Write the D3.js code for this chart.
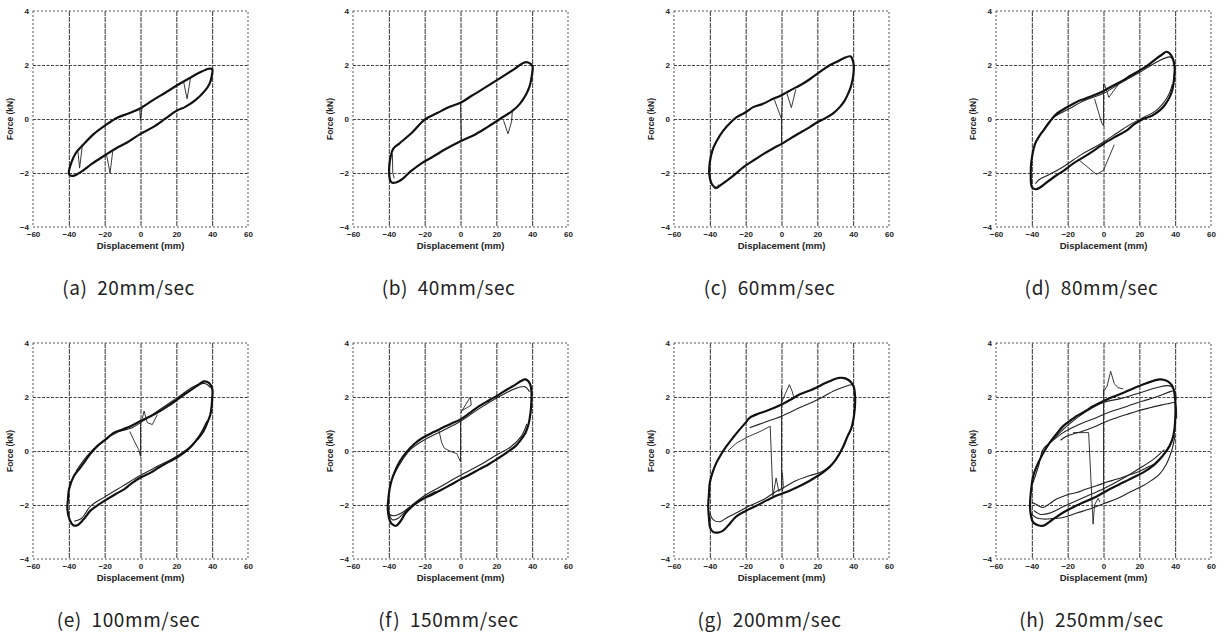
<!DOCTYPE html>
<html>
<head>
<meta charset="utf-8">
<script src="https://cdn.jsdelivr.net/npm/d3@7"></script>
<style>
  body { margin: 0; background: #fff; }
  svg { display: block; }
  .tick text { font-family: "Liberation Sans", Arial, sans-serif; font-weight: bold; font-size: 8px; fill: #222; }
</style>
</head>
<body>
<svg id="chart"></svg>
<script>
// Axis ticks and captions
const xTicks = [-60, -40, -20, 0, 20, 40, 60];
const yTicks = [-4, -2, 0, 2, 4];
const captions = ["(a)  20mm/sec", "(b)  40mm/sec", "(c)  60mm/sec", "(d)  80mm/sec",
                  "(e)  100mm/sec", "(f)  150mm/sec", "(g)  200mm/sec", "(h)  250mm/sec"];

// Main hysteresis loops [displacement mm, force kN]
const loopA = [[-40,-2.0],[-38.5,-1.6],[-36,-1.25],[-32,-0.95],[-26,-0.55],[-20,-0.25],[-13,0.05],[-6,0.22],[0,0.4],[7,0.7],[14,0.98],[20,1.23],[27,1.5],[33,1.72],[38,1.86],[40,1.85],
  [39.8,1.6],[38.5,1.3],[36,1.05],[31,0.72],[25,0.45],[20,0.3],[14,0.02],[7,-0.3],[0,-0.55],[-7,-0.85],[-14,-1.1],[-20,-1.35],[-27,-1.65],[-33,-1.95],[-37,-2.1],[-39.5,-2.08]];
const loopB = [[-39.5,-2.2],[-39.8,-1.8],[-39,-1.4],[-37.5,-1.1],[-34,-0.9],[-27,-0.5],[-20,-0.02],[-13,0.22],[-6,0.45],[0,0.6],[6,0.85],[11,1.05],[17,1.3],[23,1.55],[30,1.85],[36,2.1],[39,2.05],[40.2,1.95],
  [39.8,1.6],[38.5,1.2],[36.5,0.9],[33,0.55],[29,0.3],[22,0.0],[15,-0.3],[8,-0.58],[0,-0.82],[-8,-1.1],[-15,-1.38],[-22,-1.65],[-28,-1.95],[-33,-2.25],[-36,-2.35],[-38.5,-2.35]];
const loopC = [[-40.3,-2.04],[-40,-1.6],[-38.5,-1.15],[-36.5,-0.85],[-32.5,-0.43],[-28,-0.1],[-25,0.07],[-20,0.25],[-15.8,0.44],[-10,0.57],[-6.5,0.69],[0,0.88],[4,1.03],[8.4,1.18],[13,1.35],[17.6,1.56],[22,1.77],[26.9,1.99],[31,2.12],[34.4,2.24],[38.5,2.32],[40.2,2.05],
  [40.2,1.7],[39.6,1.43],[38.5,1.15],[37.2,0.94],[35,0.65],[32.5,0.44],[29,0.22],[25,0.05],[20,-0.12],[15.8,-0.3],[8,-0.6],[0,-0.92],[-5,-1.1],[-10.2,-1.3],[-16,-1.55],[-21.4,-1.79],[-26,-2.05],[-30.7,-2.29],[-34,-2.45],[-36.2,-2.55],[-38.5,-2.45]];
const loopD = [[-40.1,-2.5],[-40.6,-2.0],[-40.3,-1.6],[-38.2,-0.92],[-36,-0.65],[-33.6,-0.43],[-30,-0.1],[-26.2,0.19],[-20,0.45],[-15,0.63],[-10,0.76],[-5.8,0.87],[0,1.04],[5,1.22],[10.9,1.43],[15,1.6],[20.2,1.8],[25,2.0],[29.5,2.24],[33,2.4],[35.1,2.49],[37.8,2.36],[39.7,1.93],
  [39.5,1.6],[39.3,1.43],[38.5,1.1],[36.9,0.81],[34,0.5],[31.4,0.32],[27,0.12],[22.1,0.0],[17,-0.2],[12.8,-0.43],[6,-0.68],[0,-0.92],[-5,-1.15],[-11.3,-1.42],[-17,-1.65],[-22.4,-1.92],[-27,-2.12],[-31.7,-2.35],[-35,-2.52],[-37.3,-2.6],[-39,-2.58]];
const loopE = [[-40.8,-2.15],[-40.5,-1.8],[-39.9,-1.42],[-37.1,-0.92],[-34,-0.65],[-31.5,-0.43],[-28,-0.1],[-24.1,0.18],[-19,0.45],[-14.8,0.68],[-10,0.8],[-5.5,0.92],[0,1.11],[5,1.27],[9.4,1.42],[15,1.65],[20.6,1.91],[25,2.12],[29.9,2.34],[33,2.48],[35.4,2.58],[38.2,2.52],[40.1,2.28],
  [40,1.95],[39.7,1.66],[39,1.35],[37.3,1.05],[35,0.72],[31.7,0.43],[28,0.15],[24.3,-0.06],[20,-0.25],[15,-0.43],[10,-0.62],[5.7,-0.8],[0,-0.98],[-5,-1.2],[-9.2,-1.42],[-14,-1.6],[-18.5,-1.78],[-23,-1.97],[-27.8,-2.2],[-32,-2.55],[-35.2,-2.75],[-37.5,-2.75],[-39.5,-2.55]];
const loopF = [[-40.6,-2.15],[-40.3,-1.8],[-39.6,-1.42],[-38.5,-1.1],[-36.9,-0.8],[-34,-0.4],[-30.4,-0.06],[-26,0.25],[-21.1,0.49],[-15,0.7],[-10,0.86],[-5,1.02],[0,1.17],[5,1.4],[10.4,1.66],[16,1.88],[21.5,2.09],[26,2.28],[30.7,2.46],[33.5,2.58],[36.3,2.65],[38.7,2.5],[39.6,2.2],
  [39.6,1.9],[39.1,1.42],[38,1.0],[36.3,0.68],[33.5,0.4],[30.7,0.18],[26,-0.05],[21.5,-0.25],[16,-0.48],[10.4,-0.68],[5,-0.88],[0,-1.05],[-6,-1.27],[-11.9,-1.48],[-16,-1.62],[-21.1,-1.78],[-26,-2.0],[-30.4,-2.28],[-33.5,-2.6],[-35.9,-2.77],[-38,-2.72],[-39.3,-2.6]];
const loopG = [[-40.9,-2.03],[-40.5,-1.6],[-40,-1.17],[-38.5,-0.8],[-36.3,-0.43],[-33.5,-0.1],[-30.7,0.18],[-27,0.5],[-23.3,0.8],[-20,1.05],[-17.8,1.23],[-13,1.38],[-8.5,1.48],[-4,1.6],[0,1.72],[5,1.9],[10,2.09],[15,2.22],[19.3,2.34],[23,2.47],[26.7,2.58],[29.5,2.66],[32.2,2.71],[35,2.7],[36.9,2.65],[38.8,2.55],[40.2,2.4],
  [41,2.1],[41.1,1.8],[40.8,1.5],[40.2,1.2],[39,0.85],[36.9,0.55],[34,0.1],[30.4,-0.31],[27,-0.58],[23,-0.8],[19,-0.97],[15.6,-1.11],[11,-1.27],[6.3,-1.42],[2,-1.54],[-3,-1.66],[-8,-1.82],[-14,-2.03],[-20,-2.22],[-25.2,-2.42],[-29,-2.7],[-32.6,-2.95],[-35.5,-3.02],[-38.1,-3.0],[-39.8,-2.85],[-40.4,-2.55]];
const loopH = [[-41,-2.03],[-40.5,-1.5],[-39.2,-0.92],[-37.5,-0.6],[-35.5,-0.31],[-33,0.0],[-30,0.31],[-26,0.65],[-22.5,0.92],[-18,1.15],[-15.1,1.29],[-10,1.48],[-5.8,1.66],[0,1.85],[5,2.0],[10.9,2.15],[16,2.3],[22,2.46],[27,2.58],[31.3,2.65],[33.5,2.64],[35.9,2.58],[38,2.45],[39.2,2.28],
  [40,1.9],[40.2,1.54],[40,1.15],[39.6,0.8],[38.5,0.45],[36.8,0.18],[34,-0.1],[31.3,-0.31],[27,-0.58],[22,-0.8],[16,-1.0],[10.9,-1.17],[5,-1.36],[0,-1.54],[-5,-1.72],[-11.4,-1.91],[-17,-2.08],[-22.5,-2.28],[-28,-2.52],[-33.7,-2.77],[-36.5,-2.75],[-39.2,-2.65],[-40.5,-2.4]];

// Secondary cycles (open traces lying beside the main loop)
const tracesD = [
  [[-38,-2.4],[-36,-2.25],[-30,-2.05],[-22,-1.75],[-12,-1.3],[-5,-1.05],[0,-0.85],[8,-0.5],[15,-0.2],[22,0.05],[30,0.35],[36,0.85],[38.5,1.3]],
  [[-35,-0.55],[-28,0.05],[-20,0.35],[-10,0.7],[0,0.95],[10,1.35],[20,1.72],[30,2.12],[37,2.3],[39,2.2]]];
const tracesE = [
  [[-37,-2.6],[-33,-2.5],[-28,-2.05],[-20,-1.7],[-10,-1.3],[0,-0.9],[10,-0.55],[20,-0.2],[28,0.18],[33,0.6],[37,1.1]],
  [[-36,-0.75],[-30,-0.2],[-22,0.32],[-12,0.72],[-5,0.85],[0,1.05],[10,1.5],[20,1.95],[30,2.4],[36,2.5],[39,2.35]]];
const tracesF = [
  [[-40,-2.1],[-39.5,-2.35],[-37,-2.4],[-33,-2.3],[-28,-2.05],[-20,-1.65],[-12,-1.35],[0,-0.9],[10,-0.55],[20,-0.15],[28,0.15],[34,0.55],[37,1.0]],
  [[-39.8,-2.3],[-38,-2.55],[-35,-2.5],[-30,-2.2],[-22,-1.8],[-14,-1.5]],
  [[-38,-1.0],[-34,-0.5],[-28,0.05],[-20,0.42],[-10,0.75],[0,1.1],[10,1.55],[20,1.95],[30,2.3],[36,2.38],[38.5,2.2]]];
const tracesG = [
  [[-40,-2.3],[-38,-2.55],[-34.4,-2.62],[-30,-2.45],[-24,-2.25],[-17.8,-2.03],[-10,-1.8],[-3,-1.5],[0,-1.4],[8,-1.1],[15.6,-0.92],[23,-0.75],[28,-0.5]],
  [[-17.8,0.86],[-10,1.05],[0,1.29],[10,1.6],[20,1.9],[30,2.25],[36,2.4],[39.6,2.46]]];
const tracesH = [
  [[-39.5,-1.2],[-36,-0.5],[-33.7,0.06],[-28,0.4],[-22.5,0.68],[-17,0.88],[-11.4,1.05],[-5,1.2],[0,1.35],[5,1.48],[10.9,1.6],[16,1.72],[22,1.85],[28,1.97],[33.1,2.09],[36.5,2.18],[39.7,2.22],[40.5,1.9]],
  [[-24,0.4],[-20.6,0.55],[-16,0.65],[-11.4,0.74],[-5,0.9],[0,1.05],[6,1.2],[12.8,1.35],[19,1.48],[25.8,1.6],[32,1.7],[36,1.75],[39.7,1.78],[40.8,1.2]],
  [[-30,0.3],[-20,0.95],[-10,1.45],[0,1.8],[10,1.95],[20,2.15],[30,2.35],[36,2.42],[39,2.35]],
  [[-40,-1.9],[-37,-2.0],[-33.7,-2.09],[-30,-1.95],[-26.2,-1.78],[-20,-1.62],[-15,-1.54],[-10,-1.42],[-4,-1.29],[2,-1.15],[7.1,-1.05],[13,-0.92],[18.4,-0.8],[24,-0.62],[29.5,-0.43],[34,-0.1],[37,0.2]],
  [[-40.5,-2.3],[-38,-2.45],[-33.7,-2.52],[-28,-2.5],[-22.5,-2.46],[-15,-2.3],[-7.7,-2.15],[0,-1.95],[7.1,-1.78],[14,-1.55],[22,-1.29],[27,-1.08],[31.3,-0.86],[35,-0.5],[38,0.0],[40,0.6]],
  [[-39,-2.2],[-35,-2.35],[-30,-2.3],[-22,-2.05],[-12,-1.75],[0,-1.4],[10,-1.05],[20,-0.65],[28,-0.3],[34,0.05]]];

// Thin spikes / jumps in the records
const spikesA = [[[-35,-1.15],[-34,-1.82],[-32.5,-1.0]], [[24,1.4],[26,0.75],[28,1.55]], [[-19,-1.3],[-17,-2.0],[-15.5,-1.2]], [[-0.5,0.4],[0,-0.05],[1,0.5]]];
const spikesB = [[[0,0.6],[0.5,-0.8]], [[24,-0.05],[26.5,-0.55],[28.5,-0.1],[29,0.35]], [[-38,-1.3],[-37.8,-2.0],[-37,-2.2]]];
const spikesC = [[[-4,0.72],[0,0.0],[0,-0.92]], [[0,0.0],[0.5,0.8]], [[3,0.95],[5.5,0.42],[8,1.1]], [[-39,-2.4],[-37,-2.6],[-35,-2.42]]];
const spikesD = [[[-5,0.75],[-1,-0.15],[0,-0.25],[0,1.3]], [[0.5,1.3],[3,0.8],[9,1.35]], [[-14,-1.5],[-4,-2.05],[0,-1.9],[6,-0.95]]];
const spikesE = [[[-6,0.72],[-3,0.3],[-1,0.05],[0,-0.2],[0,1.1]], [[1,1.2],[2,1.48],[3.8,1.05],[6.6,0.98],[9.4,1.35]]];
const spikesF = [[[-12,0.75],[-10.5,0.3],[-9,0.1],[-6,0.0],[-2,-0.1],[0,-0.4],[0,1.2]], [[0,1.4],[5.5,2.0],[6,1.7],[1,1.5]]];
const spikesG = [[[-30,0.0],[-25,0.3],[-18,0.55],[-12,0.72],[-6.3,0.92],[-4.8,-1.66],[-3.5,-1.2],[-3,-1.0],[-1.5,-1.5],[0,-1.4],[0,2.3]], [[0,1.8],[2,2.1],[4.4,2.46],[6,2.2],[7,1.95]], [[0.5,-0.8],[1,-1.3],[0.5,-1.5]]];
const spikesH = [[[-17,0.68],[-8.3,0.68],[-5.8,-2.71],[-5,-2.0],[-3,-1.75],[-2,-1.9]], [[0,-1.6],[0,2.28]], [[0,2.2],[2,2.4],[4,2.95],[6,2.5],[8,2.35],[11,2.3]]];

const panels = [
  { loop: loopA, traces: [], spikes: spikesA },
  { loop: loopB, traces: [], spikes: spikesB },
  { loop: loopC, traces: [], spikes: spikesC },
  { loop: loopD, traces: tracesD, spikes: spikesD },
  { loop: loopE, traces: tracesE, spikes: spikesE },
  { loop: loopF, traces: tracesF, spikes: spikesF },
  { loop: loopG, traces: tracesG, spikes: spikesG },
  { loop: loopH, traces: tracesH, spikes: spikesH }
];

const width = 1224;
const height = 639;
const svg = d3.select("#chart").attr("width", width).attr("height", height);

// plot boxes
const colLeft = [33, 353, 674, 996];
const rowTop = [11, 343];
const pw = 215, ph = 216;

const x = d3.scaleLinear().domain([-60, 60]).range([0, pw]);
const y = d3.scaleLinear().domain([-4, 4]).range([ph, 0]);

const closedPath = d3.line().x(d => x(d[0])).y(d => y(d[1])).curve(d3.curveCatmullRomClosed.alpha(0.5));
const openPath = d3.line().x(d => x(d[0])).y(d => y(d[1])).curve(d3.curveCatmullRom.alpha(0.5));
const rawPath = d3.line().x(d => x(d[0])).y(d => y(d[1]));

panels.forEach((p, i) => {
  const g = svg.append("g")
    .attr("transform", `translate(${colLeft[i % 4]},${rowTop[Math.floor(i / 4)]})`);

  // grid lines
  const gx = g.append("g").call(d3.axisBottom(x).tickValues(xTicks.slice(1, -1)).tickSize(ph).tickFormat(""));
  const gy = g.append("g").call(d3.axisLeft(y).tickValues(yTicks.slice(1, -1)).tickSize(-pw).tickFormat(""));
  gx.selectAll("line").attr("stroke", "#333").attr("stroke-width", 1).attr("stroke-dasharray", "5,1");
  gy.selectAll("line").attr("stroke", "#444").attr("stroke-width", 1).attr("stroke-dasharray", "3,1.5");
  [gx, gy].forEach(a => a.select(".domain").remove());

  // frame
  g.append("rect")
    .attr("width", pw).attr("height", ph)
    .attr("fill", "none").attr("stroke", "#555").attr("stroke-width", 1)
    .attr("stroke-dasharray", "2,2");

  // tick labels
  const ax = g.append("g").attr("transform", `translate(0,${ph})`)
    .call(d3.axisBottom(x).tickValues(xTicks).tickSize(0).tickPadding(4));
  const ay = g.append("g")
    .call(d3.axisLeft(y).tickValues(yTicks).tickSize(0).tickPadding(4));
  [ax, ay].forEach(a => a.select(".domain").remove());

  g.append("text")
    .attr("x", pw / 2).attr("y", ph + 22)
    .attr("text-anchor", "middle")
    .style("font-family", "Liberation Sans, Arial, sans-serif")
    .style("font-weight", "bold").style("font-size", "9.5px").style("fill", "#222")
    .text("Displacement (mm)");

  g.append("text")
    .attr("transform", `translate(-20,${ph / 2}) rotate(-90)`)
    .attr("text-anchor", "middle")
    .style("font-family", "Liberation Sans, Arial, sans-serif")
    .style("font-weight", "bold").style("font-size", "8.5px").style("fill", "#222")
    .text("Force (kN)");

  // data
  p.traces.forEach(t => {
    g.append("path").attr("d", openPath(t))
      .attr("fill", "none").attr("stroke", "#222").attr("stroke-width", 1.1);
  });
  g.append("path").attr("d", closedPath(p.loop))
    .attr("fill", "none").attr("stroke", "#111").attr("stroke-width", 2.2);
  p.spikes.forEach(s => {
    g.append("path").attr("d", rawPath(s))
      .attr("fill", "none").attr("stroke", "#222").attr("stroke-width", 0.9);
  });

  // caption
  svg.append("text")
    .attr("x", colLeft[i % 4] + pw / 2 - 12)
    .attr("y", rowTop[Math.floor(i / 4)] + 284)
    .attr("text-anchor", "middle")
    .style("font-family", "Noto Sans CJK KR, sans-serif")
    .style("font-size", "19px").style("letter-spacing", "0.6px").style("fill", "#222")
    .style("white-space", "pre")
    .text(captions[i]);
});
</script>
</body>
</html>
